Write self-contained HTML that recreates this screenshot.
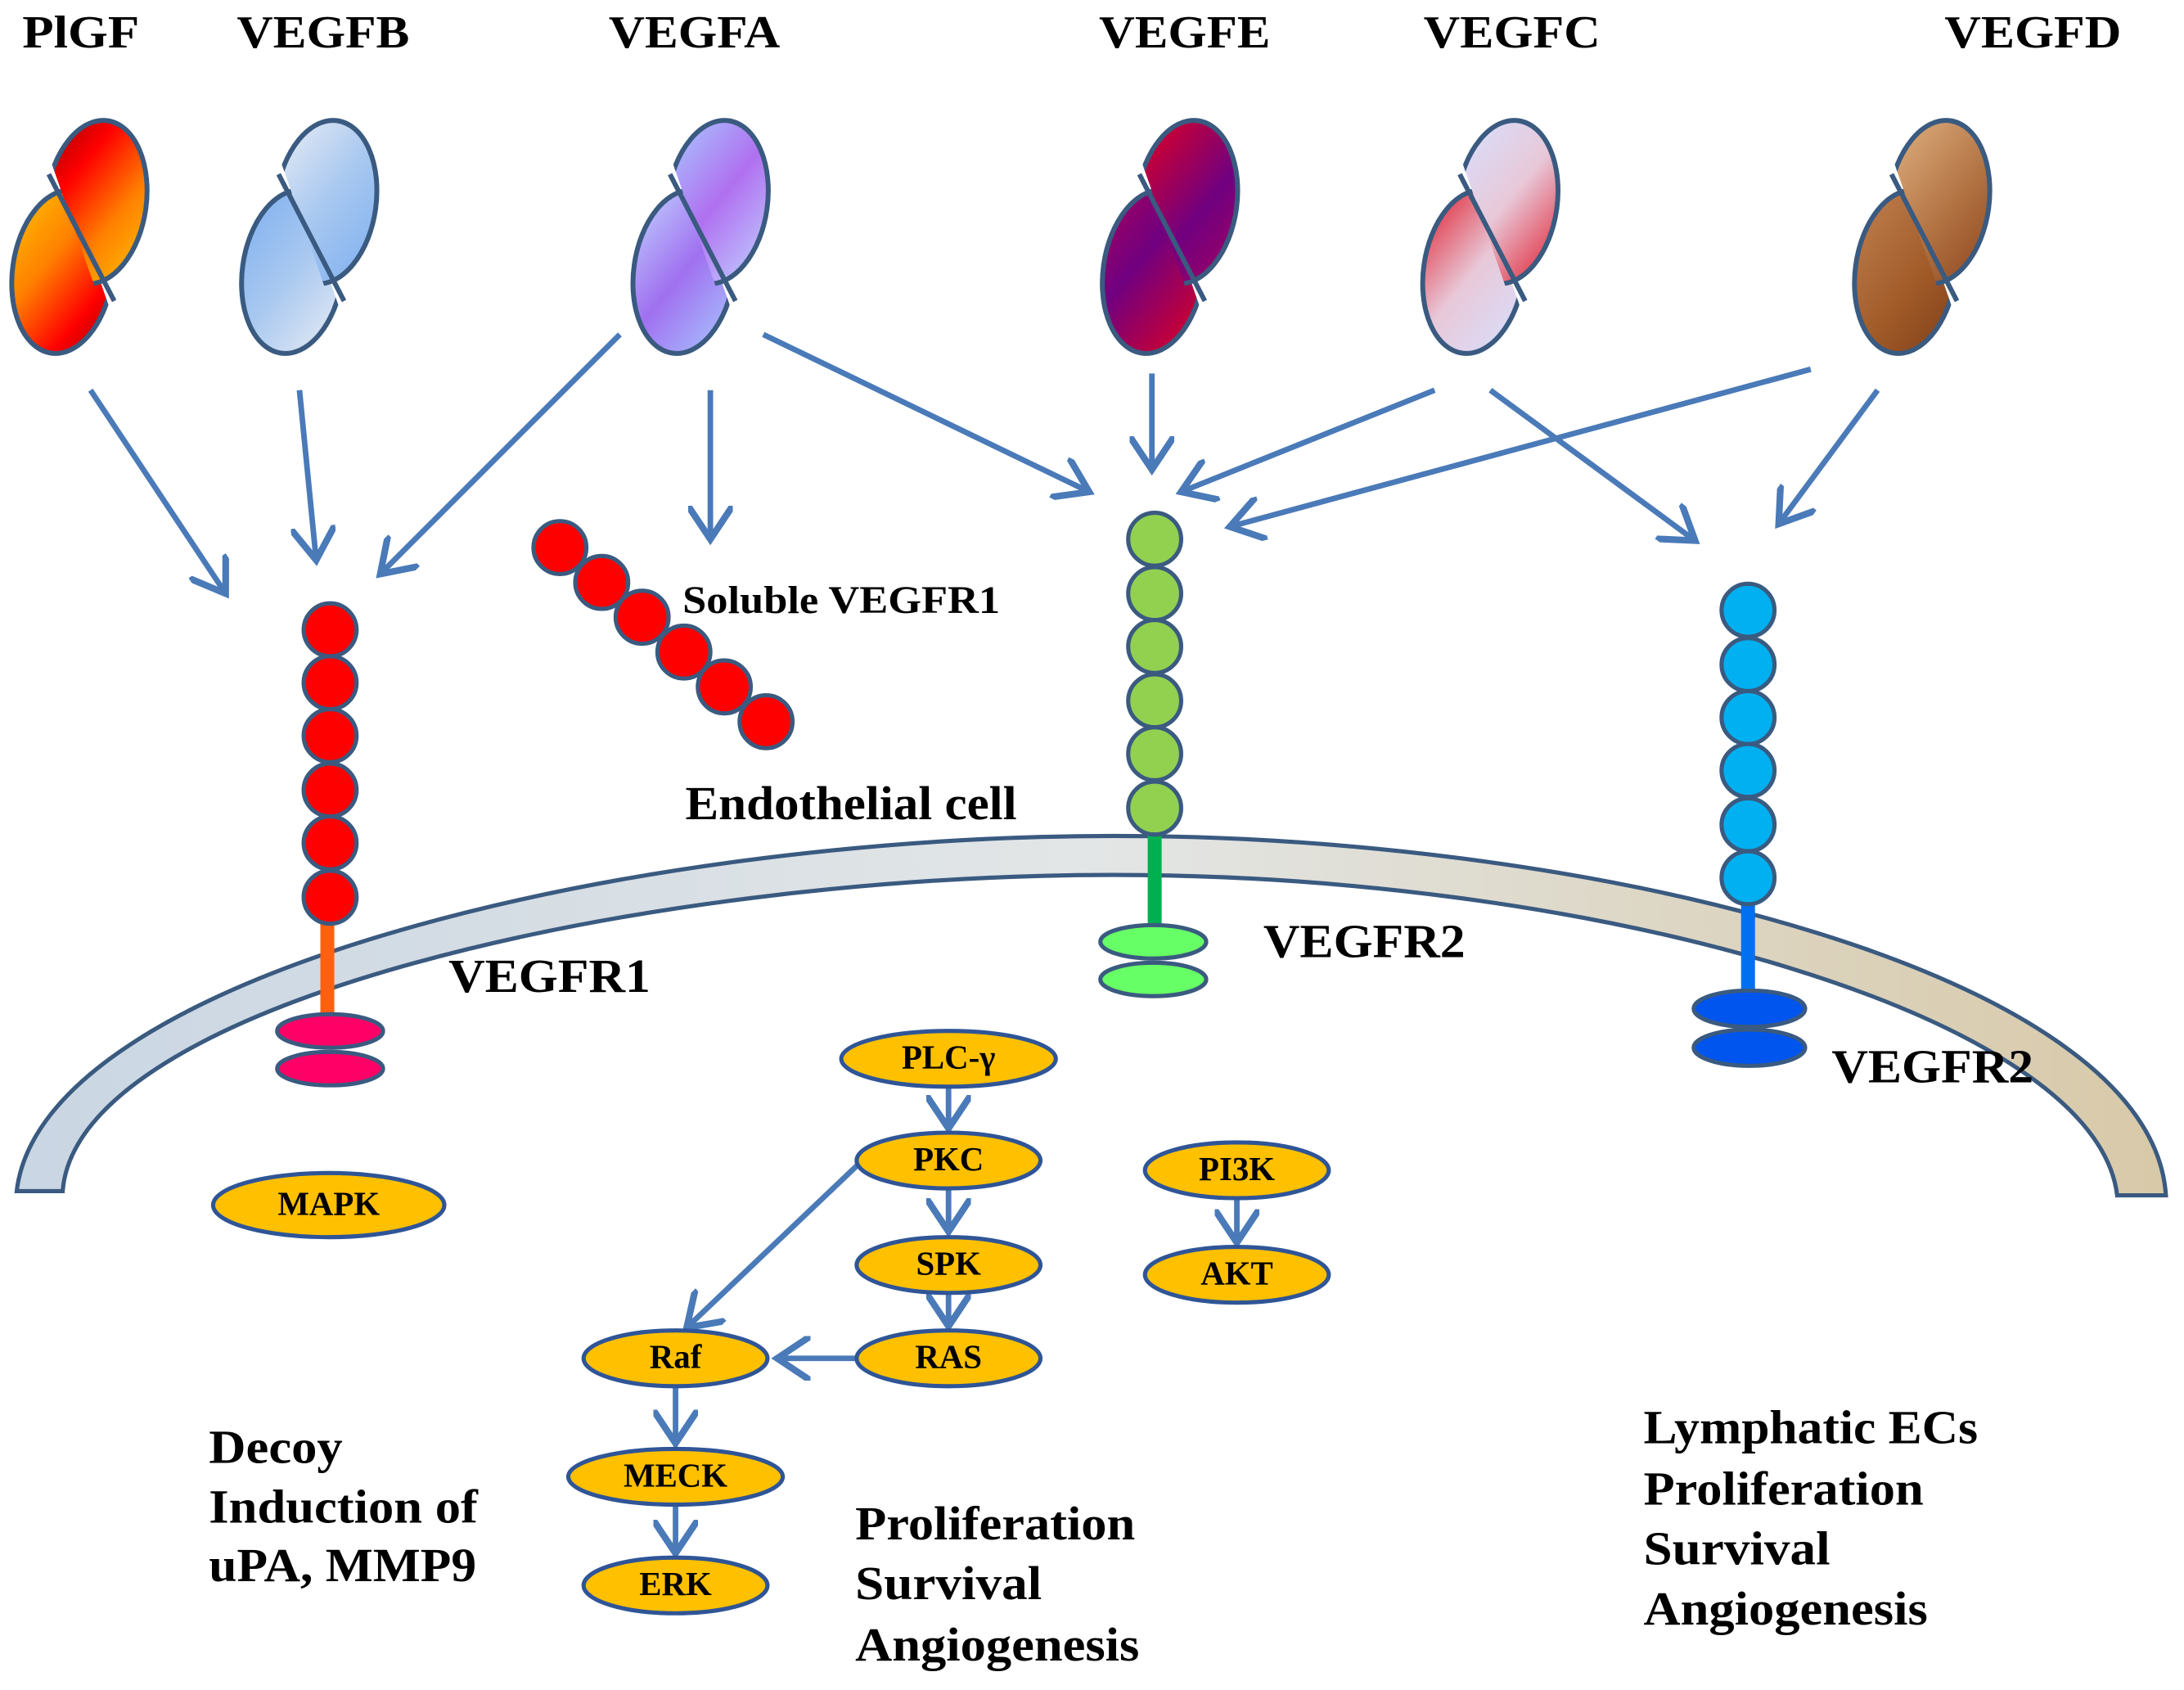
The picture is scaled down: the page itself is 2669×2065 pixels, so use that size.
<!DOCTYPE html>
<html><head><meta charset="utf-8"><style>
html,body{margin:0;padding:0;background:#fff;}
svg{display:block;}
text{font-family:"Liberation Serif",serif;font-weight:bold;fill:#000;}
</style></head><body>
<svg width="2669" height="2065" viewBox="0 0 1568 1213" xmlns="http://www.w3.org/2000/svg">
<defs>
<marker id="ah" markerWidth="8" markerHeight="8" refX="6" refY="4" orient="auto" markerUnits="strokeWidth">
<path d="M0,0 L6,4 L0,8" fill="none" stroke="#4a7ab8" stroke-width="1.2"/>
</marker>
<clipPath id="cu"><polygon points="-131,-257 134,258 250,258 250,-257"/></clipPath>
<clipPath id="cl"><polygon points="-131,-257 134,258 -250,258 -250,-257"/></clipPath>
<linearGradient id="mem" x1="0" x2="1" y1="0" y2="0">
<stop offset="0" stop-color="#c9d6e3"/><stop offset="0.5" stop-color="#e3e6e6"/><stop offset="1" stop-color="#d8c9a8"/></linearGradient>
<linearGradient id="a1" x1="0" y1="0" x2="1" y2="1"><stop offset="0" stop-color="#a00000"/><stop offset="0.3" stop-color="#ff0000"/><stop offset="0.65" stop-color="#ff8000"/><stop offset="1" stop-color="#ffc000"/></linearGradient>
<linearGradient id="b1" x1="0" y1="0" x2="1" y2="1"><stop offset="0" stop-color="#ffc000"/><stop offset="0.4" stop-color="#ff8000"/><stop offset="0.75" stop-color="#ff0000"/><stop offset="1" stop-color="#a00000"/></linearGradient>
<linearGradient id="a2" x1="0" y1="0" x2="1" y2="1"><stop offset="0" stop-color="#e8ecf4"/><stop offset="0.5" stop-color="#a8c8f0"/><stop offset="1" stop-color="#7fb0f0"/></linearGradient>
<linearGradient id="b2" x1="0" y1="0" x2="1" y2="1"><stop offset="0" stop-color="#7fb0f0"/><stop offset="0.5" stop-color="#a8c8f0"/><stop offset="1" stop-color="#e8ecf4"/></linearGradient>
<linearGradient id="a3" x1="0" y1="0" x2="1" y2="1"><stop offset="0" stop-color="#a8c8ff"/><stop offset="0.5" stop-color="#b070f0"/><stop offset="1" stop-color="#c0d0ff"/></linearGradient>
<linearGradient id="b3" x1="0" y1="0" x2="1" y2="1"><stop offset="0" stop-color="#c0d0ff"/><stop offset="0.5" stop-color="#a070f0"/><stop offset="1" stop-color="#a8c8ff"/></linearGradient>
<linearGradient id="a4" x1="0" y1="0" x2="1" y2="1"><stop offset="0" stop-color="#e00020"/><stop offset="0.6" stop-color="#700080"/><stop offset="1" stop-color="#a00060"/></linearGradient>
<linearGradient id="b4" x1="0" y1="0" x2="1" y2="1"><stop offset="0" stop-color="#a00060"/><stop offset="0.4" stop-color="#700080"/><stop offset="1" stop-color="#e00020"/></linearGradient>
<linearGradient id="a5" x1="0" y1="0" x2="1" y2="1"><stop offset="0" stop-color="#d8e0ff"/><stop offset="0.5" stop-color="#e8c8d8"/><stop offset="1" stop-color="#e02030"/></linearGradient>
<linearGradient id="b5" x1="0" y1="0" x2="1" y2="1"><stop offset="0" stop-color="#e02030"/><stop offset="0.5" stop-color="#e8c8d8"/><stop offset="1" stop-color="#d8e0ff"/></linearGradient>
<linearGradient id="a6" x1="0" y1="0" x2="1" y2="1"><stop offset="0" stop-color="#e0b080"/><stop offset="0.6" stop-color="#b07040"/><stop offset="1" stop-color="#904820"/></linearGradient>
<linearGradient id="b6" x1="0" y1="0" x2="1" y2="1"><stop offset="0" stop-color="#c08050"/><stop offset="0.6" stop-color="#a05a28"/><stop offset="1" stop-color="#804018"/></linearGradient>
<g id="up"><ellipse cx="12" cy="-25" rx="36" ry="59" transform="rotate(8 12 -25)" clip-path="url(#cu)"/></g>
<g id="lo"><ellipse cx="-12" cy="25" rx="36" ry="59" transform="rotate(8 -12 25)" clip-path="url(#cl)"/></g>
</defs>
<g font-size="33">
<text x="16" y="34" textLength="84" lengthAdjust="spacingAndGlyphs">PlGF</text>
<text x="170" y="34" textLength="124" lengthAdjust="spacingAndGlyphs">VEGFB</text>
<text x="437" y="34" textLength="123" lengthAdjust="spacingAndGlyphs">VEGFA</text>
<text x="789" y="34" textLength="123" lengthAdjust="spacingAndGlyphs">VEGFE</text>
<text x="1022" y="34" textLength="127" lengthAdjust="spacingAndGlyphs">VEGFC</text>
<text x="1396" y="34" textLength="127" lengthAdjust="spacingAndGlyphs">VEGFD</text>
</g>
<g stroke="#3a5a80" stroke-width="3.5" stroke-linejoin="round">
<g transform="translate(57,170)"><use href="#lo" fill="url(#b1)"/><use href="#up" fill="url(#a1)"/><line x1="-22" y1="-45" x2="25" y2="46"/></g>
<g transform="translate(222,170)"><use href="#lo" fill="url(#b2)"/><use href="#up" fill="url(#a2)"/><line x1="-22" y1="-45" x2="25" y2="46"/></g>
<g transform="translate(503,170)"><use href="#lo" fill="url(#b3)"/><use href="#up" fill="url(#a3)"/><line x1="-22" y1="-45" x2="25" y2="46"/></g>
<g transform="translate(840,170)"><use href="#lo" fill="url(#b4)"/><use href="#up" fill="url(#a4)"/><line x1="-22" y1="-45" x2="25" y2="46"/></g>
<g transform="translate(1070,170)"><use href="#lo" fill="url(#b5)"/><use href="#up" fill="url(#a5)"/><line x1="-22" y1="-45" x2="25" y2="46"/></g>
<g transform="translate(1380,170)"><use href="#lo" fill="url(#b6)"/><use href="#up" fill="url(#a6)"/><line x1="-22" y1="-45" x2="25" y2="46"/></g>
</g>
<!-- membrane -->
<path d="M12,855 C30,700 450,600 800,600 C1150,600 1545,700 1555,858 L1520,858 C1505,730 1150,628 800,628 C460,628 55,720 45,855 Z" fill="url(#mem)" stroke="#3a5a80" stroke-width="3"/>
<g stroke="#4a7ab8" stroke-width="4" fill="none" marker-end="url(#ah)">
<line x1="65" y1="280" x2="162" y2="426"/>
<line x1="215" y1="280" x2="227" y2="402"/>
<line x1="445" y1="240" x2="273" y2="412"/>
<line x1="510" y1="280" x2="510" y2="387"/>
<line x1="548" y1="240" x2="782" y2="353"/>
<line x1="827" y1="268" x2="827" y2="337"/>
<line x1="1030" y1="280" x2="848" y2="353"/>
<line x1="1300" y1="265" x2="883" y2="378"/>
<line x1="1070" y1="280" x2="1217" y2="388"/>
<line x1="1348" y1="280" x2="1277" y2="376"/>
<line x1="681" y1="780" x2="681" y2="810"/>
<line x1="681" y1="853" x2="681" y2="884"/>
<line x1="681" y1="928" x2="681" y2="952"/>
<line x1="615" y1="975" x2="558" y2="975"/>
<line x1="617" y1="835" x2="493" y2="953"/>
<line x1="485" y1="995" x2="485" y2="1036"/>
<line x1="485" y1="1080" x2="485" y2="1115"/>
<line x1="888" y1="860" x2="888" y2="892"/>
</g>
<!-- soluble -->
<g fill="#ff0000" stroke="#3a5a80" stroke-width="3">
<circle cx="402" cy="393" r="19"/><circle cx="432" cy="418" r="19"/><circle cx="461" cy="443" r="19"/><circle cx="491" cy="468" r="19"/><circle cx="520" cy="493" r="19"/><circle cx="550" cy="518" r="19"/>
</g>
<!-- VEGFR1 -->
<rect x="230" y="660" width="10" height="68" fill="#ff6010"/>
<g fill="#ff0000" stroke="#3a5a80" stroke-width="3">
<circle cx="237" cy="452" r="19"/><circle cx="237" cy="490" r="19"/><circle cx="237" cy="528" r="19"/><circle cx="237" cy="567" r="19"/><circle cx="237" cy="605" r="19"/><circle cx="237" cy="644" r="19"/>
</g>
<g fill="#ff0066" stroke="#3a5a80" stroke-width="3"><ellipse cx="237" cy="740" rx="38" ry="12"/><ellipse cx="237" cy="767" rx="38" ry="12"/></g>
<!-- VEGFR2 mid -->
<rect x="824" y="597" width="10" height="68" fill="#00b050"/>
<g fill="#92d050" stroke="#3a5a80" stroke-width="3">
<circle cx="829" cy="387" r="19"/><circle cx="829" cy="426" r="19"/><circle cx="829" cy="464" r="19"/><circle cx="829" cy="503" r="19"/><circle cx="829" cy="541" r="19"/><circle cx="829" cy="580" r="19"/>
</g>
<g fill="#66ff66" stroke="#3a5a80" stroke-width="3"><ellipse cx="828" cy="676" rx="38" ry="12"/><ellipse cx="828" cy="703" rx="38" ry="12"/></g>
<!-- VEGFR2 right -->
<rect x="1250" y="647" width="10" height="68" fill="#0070f0"/>
<g fill="#00b0f0" stroke="#3a5a80" stroke-width="3">
<circle cx="1255" cy="438" r="19"/><circle cx="1255" cy="477" r="19"/><circle cx="1255" cy="515" r="19"/><circle cx="1255" cy="553" r="19"/><circle cx="1255" cy="592" r="19"/><circle cx="1255" cy="630" r="19"/>
</g>
<g fill="#0055ee" stroke="#3a5a80" stroke-width="3"><ellipse cx="1256" cy="724" rx="40" ry="13"/><ellipse cx="1256" cy="752" rx="40" ry="13"/></g>
<!-- ovals -->
<g fill="#ffc000" stroke="#2f5597" stroke-width="3">
<ellipse cx="236" cy="865" rx="83" ry="23"/>
<ellipse cx="681" cy="760" rx="77" ry="20"/>
<ellipse cx="681" cy="833" rx="66" ry="20"/>
<ellipse cx="681" cy="908" rx="66" ry="20"/>
<ellipse cx="681" cy="975" rx="66" ry="20"/>
<ellipse cx="888" cy="840" rx="66" ry="20"/>
<ellipse cx="888" cy="915" rx="66" ry="20"/>
<ellipse cx="485" cy="975" rx="66" ry="20"/>
<ellipse cx="485" cy="1060" rx="77" ry="20"/>
<ellipse cx="485" cy="1138" rx="66" ry="20"/>
</g>
<g font-size="24" text-anchor="middle">
<text x="236" y="872">MAPK</text>
<text x="681" y="767">PLC-γ</text>
<text x="681" y="840">PKC</text>
<text x="681" y="915">SPK</text>
<text x="681" y="982">RAS</text>
<text x="888" y="847">PI3K</text>
<text x="888" y="922">AKT</text>
<text x="485" y="982">Raf</text>
<text x="485" y="1067">MECK</text>
<text x="485" y="1145">ERK</text>
</g>
<text x="490" y="440" font-size="28" textLength="228" lengthAdjust="spacingAndGlyphs">Soluble VEGFR1</text>
<g font-size="34">
<text x="492" y="588" textLength="238" lengthAdjust="spacingAndGlyphs">Endothelial cell</text>
<text x="322" y="712" textLength="145" lengthAdjust="spacingAndGlyphs">VEGFR1</text>
<text x="907" y="687" textLength="145" lengthAdjust="spacingAndGlyphs">VEGFR2</text>
<text x="1315" y="777" textLength="145" lengthAdjust="spacingAndGlyphs">VEGFR2</text>
<text x="150" y="1050" textLength="96" lengthAdjust="spacingAndGlyphs">Decoy</text>
<text x="150" y="1093" textLength="193" lengthAdjust="spacingAndGlyphs">Induction of</text>
<text x="150" y="1135" textLength="192" lengthAdjust="spacingAndGlyphs">uPA, MMP9</text>
<text x="614" y="1105" textLength="201" lengthAdjust="spacingAndGlyphs">Proliferation</text>
<text x="614" y="1148" textLength="134" lengthAdjust="spacingAndGlyphs">Survival</text>
<text x="614" y="1192" textLength="204" lengthAdjust="spacingAndGlyphs">Angiogenesis</text>
<text x="1180" y="1036" textLength="240" lengthAdjust="spacingAndGlyphs">Lymphatic ECs</text>
<text x="1180" y="1080" textLength="201" lengthAdjust="spacingAndGlyphs">Proliferation</text>
<text x="1180" y="1123" textLength="134" lengthAdjust="spacingAndGlyphs">Survival</text>
<text x="1180" y="1166" textLength="204" lengthAdjust="spacingAndGlyphs">Angiogenesis</text>
</g>
</svg>
</body></html>
